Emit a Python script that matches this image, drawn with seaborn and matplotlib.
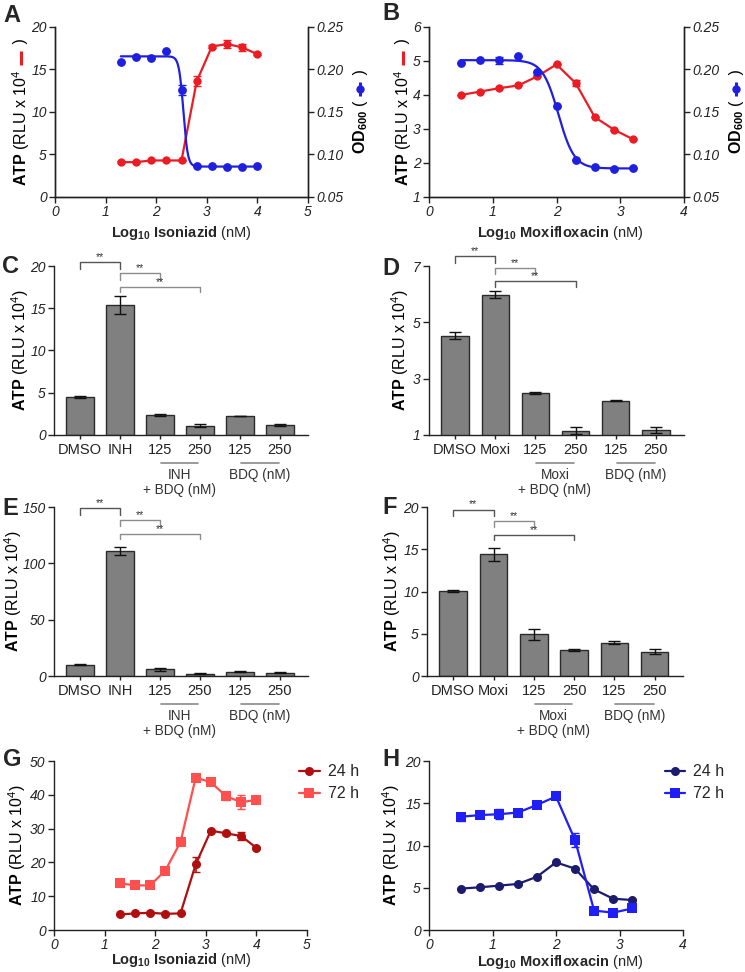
import numpy as np
import pandas as pd
import matplotlib
matplotlib.use("Agg")
import matplotlib.pyplot as plt
from matplotlib.lines import Line2D
from matplotlib.transforms import IdentityTransform
import seaborn as sns

# ---------------- data ----------------
INH_LOG = [1.3, 1.6, 1.9, 2.2, 2.5, 2.8, 3.1, 3.4, 3.7, 4.0]
MOXI_LOG = [0.5, 0.8, 1.1, 1.4, 1.7, 2.0, 2.3, 2.6, 2.9, 3.2]

A_ATP = [4.1, 4.1, 4.3, 4.3, 4.3, 13.6, 17.7, 18.0, 17.6, 16.8]
A_ATP_ERR = [0.1, 0.1, 0.1, 0.1, 0.1, 0.6, 0.2, 0.5, 0.4, 0.15]
A_OD = [0.209, 0.215, 0.214, 0.222, 0.176, 0.086, 0.086, 0.0855, 0.085, 0.086]
A_OD_ERR = [0, 0, 0, 0, 0.006, 0, 0, 0, 0, 0]
A_FIT = dict(top=0.2155, bottom=0.0858, logec50=2.537, hill=10.0)

B_ATP = [4.0, 4.1, 4.2, 4.28, 4.55, 4.9, 4.35, 3.35, 2.98, 2.7]
B_ATP_ERR = [0, 0, 0, 0, 0, 0, 0.1, 0, 0, 0]
B_OD = [0.208, 0.211, 0.211, 0.216, 0.197, 0.157, 0.093, 0.085, 0.083, 0.084]
B_OD_ERR = [0, 0, 0.004, 0, 0, 0, 0, 0, 0, 0]
B_FIT = dict(top=0.211, bottom=0.0836, logec50=2.03, hill=3.5)

BAR_KEYS = ["DMSO", "DRUG", "COMBO 125", "COMBO 250", "BDQ 125", "BDQ 250"]
INH_TICKS = ["DMSO", "INH", "125", "250", "125", "250"]
MOXI_TICKS = ["DMSO", "Moxi", "125", "250", "125", "250"]

C_VALS = [4.5, 15.4, 2.35, 1.1, 2.25, 1.2]
C_ERR = [0.15, 1.1, 0.12, 0.15, 0.05, 0.08]
D_VALS = [4.52, 5.98, 2.5, 1.15, 2.22, 1.18]
D_ERR = [0.12, 0.12, 0.03, 0.12, 0.03, 0.1]
E_VALS = [10.2, 111.0, 5.9, 2.1, 3.8, 3.1]
E_ERR = [0.3, 3.8, 1.5, 0.3, 0.5, 0.5]
F_VALS = [10.08, 14.4, 4.96, 3.07, 3.94, 2.87]
F_ERR = [0.1, 0.75, 0.65, 0.15, 0.2, 0.3]

G_24 = [4.6, 4.9, 5.1, 4.8, 4.9, 19.4, 29.4, 28.6, 27.8, 24.3]
G_24_ERR = [0.2, 0.2, 0.2, 0.2, 0.2, 2.2, 0.3, 0.4, 1.2, 0.3]
G_72 = [13.8, 13.2, 13.2, 17.6, 26.0, 45.1, 43.7, 39.6, 37.8, 38.5]
G_72_ERR = [0.3, 0.3, 0.3, 0.5, 0.5, 0.4, 0.5, 1.0, 2.0, 0.5]
H_24 = [4.9, 5.05, 5.25, 5.45, 6.3, 8.0, 7.26, 4.8, 3.7, 3.55]
H_24_ERR = [0.1, 0.1, 0.1, 0.1, 0.1, 0.1, 0.1, 0.1, 0.1, 0.1]
H_72 = [13.4, 13.6, 13.7, 13.9, 14.8, 15.8, 10.65, 2.3, 2.05, 2.55]
H_72_ERR = [0.5, 0.2, 0.6, 0.3, 0.2, 0.3, 0.8, 0.2, 0.1, 0.3]

# ---------------- style ----------------
sns.set_style("ticks")
plt.rcParams["font.family"] = ["Liberation Sans", "DejaVu Sans"]
plt.rcParams["mathtext.fontset"] = "custom"
plt.rcParams["mathtext.rm"] = "Liberation Sans"
plt.rcParams["mathtext.bf"] = "Liberation Sans:bold"
plt.rcParams["mathtext.it"] = "Liberation Sans:italic"
plt.rcParams["axes.linewidth"] = 1.0
plt.rcParams["axes.edgecolor"] = "#222222"

W, H = 745, 972
fig = plt.figure(figsize=(W / 100, H / 100), dpi=100)
PX = IdentityTransform()

RED, BLUE = "#EC1C24", "#1F1FE0"
BAR_GRAY, EDGE = "#808080", "#2b2b2b"
ATP_LABEL = r"$\mathbf{ATP}$ (RLU x 10$^4$)"


def rect(l, t, r, b):
    return [l / W, 1 - b / H, (r - l) / W, (b - t) / H]


def hill(x, p):
    x = np.asarray(x)
    return p["bottom"] + (p["top"] - p["bottom"]) / (1 + 10 ** ((x - p["logec50"]) * p["hill"]))


def style_ticks(ax, italic=True, size=10):
    ax.tick_params(direction="out", length=4, width=1, labelsize=size, pad=2, colors="#222222")
    if italic:
        for t in ax.get_xticklabels() + ax.get_yticklabels():
            t.set_fontstyle("italic")


def vlabel(x, ytop, parts, size=11):
    """rotated label built from pieces, centred at (x, ytop) in image px"""
    r = fig.canvas.get_renderer()
    items, total = [], 0
    for kind, val, col in parts:
        if kind == "text":
            t = fig.text(x, 0, val, transform=PX, rotation=90, rotation_mode="anchor",
                         ha="left", va="center", fontsize=size, color=col)
            h = t.get_window_extent(r).height
        else:
            t, h = None, 20
        items.append((kind, val, col, t, h))
        total += h
    y = (H - ytop) - total / 2
    for kind, val, col, t, h in items:
        if kind == "text":
            t.set_position((x, y))
        else:
            fig.add_artist(Line2D([x, x], [y + 3, y + h - 3], transform=PX, color=col, lw=2.2,
                                  solid_capstyle="butt"))
            if val:
                fig.add_artist(Line2D([x], [y + h / 2], transform=PX, color=col, marker="o",
                                      ms=6, mew=0))
        y += h


def xlabel(x, ybase, drug):
    fig.text(x, H - ybase, r"$\mathbf{Log_{10}\ %s}$ (nM)" % drug, transform=PX,
             ha="center", va="baseline", fontsize=10.5)


def letter(x, ybase, s):
    fig.text(x, H - ybase, s, transform=PX, fontsize=17, fontweight="bold", va="baseline")


def dose_panel(r, xs, atp, atp_err, od, od_err, fit, xlim, xticks, ylim, yticks):
    ax = fig.add_axes(r)
    ax2 = ax.twinx()
    sns.lineplot(x=xs, y=atp, color=RED, marker="o", ms=6, mew=0, lw=1.6, ax=ax)
    ax.errorbar(xs, atp, yerr=atp_err, fmt="none", ecolor=RED, elinewidth=1.2, capsize=3)
    xf = np.linspace(xs[0], xs[-1], 400)
    sns.lineplot(x=xf, y=hill(xf, fit), color=BLUE, lw=1.6, ax=ax2)
    sns.scatterplot(x=xs, y=od, color=BLUE, s=40, linewidth=0, ax=ax2, zorder=3)
    ax2.errorbar(xs, od, yerr=od_err, fmt="none", ecolor=BLUE, elinewidth=1.2, capsize=3)
    ax.set_xlim(*xlim)
    ax.set_xticks(xticks)
    ax.set_ylim(*ylim)
    ax.set_yticks(yticks)
    ax2.set_ylim(0.05, 0.25)
    ax2.set_yticks([0.05, 0.10, 0.15, 0.20, 0.25])
    ax2.set_yticklabels(["0.05", "0.10", "0.15", "0.20", "0.25"])
    for a in (ax, ax2):
        a.spines["top"].set_visible(False)
        a.set_xlabel("")
        a.set_ylabel("")
    style_ticks(ax)
    style_ticks(ax2)
    return ax


def bar_panel(r, vals, errs, ticks, ylim, yticks, brackets, drug):
    ax = fig.add_axes(r)
    df = pd.DataFrame({"cond": BAR_KEYS, "atp": vals})
    sns.barplot(data=df, x="cond", y="atp", order=BAR_KEYS, color=BAR_GRAY, edgecolor=EDGE,
                linewidth=1.0, width=0.68, saturation=1, errorbar=None, ax=ax)
    ax.errorbar(np.arange(len(vals)), vals, yerr=errs, fmt="none", ecolor="#111111",
                elinewidth=1, capsize=4, capthick=1)
    ax.set_xlim(-0.65, 5.7)
    ax.set_ylim(*ylim)
    ax.set_yticks(yticks)
    ax.set_xticks(range(6))
    ax.set_xticklabels(ticks)
    ax.set_xlabel("")
    ax.set_ylabel("")
    sns.despine(ax=ax)
    style_ticks(ax)
    for t in ax.get_xticklabels():
        t.set_fontstyle("normal")
        t.set_fontsize(10.5)
    ax.tick_params(axis="x", length=3, pad=3)
    for x0, x1, top, drop, col in brackets:
        ax.plot([x0, x0, x1, x1], [drop, top, top, drop], color=col, lw=1, clip_on=False)
        ax.text((x0 + x1) / 2, top, "**", ha="center", va="bottom", fontsize=7.5,
                color="#333333", clip_on=False)
    tr = ax.get_xaxis_transform()
    for x0, x1, txt in [(2.02, 2.95, "%s\n+ BDQ (nM)" % drug), (4.02, 4.97, "BDQ (nM)")]:
        ax.plot([x0, x1], [-0.166, -0.166], transform=tr, color="#8a8a8a", lw=1.2, clip_on=False)
        ax.text((x0 + x1) / 2, -0.195, txt, transform=tr, ha="center", va="top", fontsize=9.8,
                color="#333333", linespacing=1.05)
    return ax


def time_panel(r, xs, s24, e24, s72, e72, c24, c72, xlim, xticks, ylim, yticks, leg_x):
    ax = fig.add_axes(r)
    for ys, es, col, mk, lab in [(s24, e24, c24, "o", "24 h"), (s72, e72, c72, "s", "72 h")]:
        sns.lineplot(x=xs, y=ys, color=col, marker=mk, ms=6.5, mew=0, lw=1.6, label=lab, ax=ax)
        ax.errorbar(xs, ys, yerr=es, fmt="none", ecolor=col, elinewidth=1.2, capsize=3)
    ax.set_xlim(*xlim)
    ax.set_xticks(xticks)
    ax.set_ylim(*ylim)
    ax.set_yticks(yticks)
    ax.set_xlabel("")
    ax.set_ylabel("")
    sns.despine(ax=ax)
    style_ticks(ax)
    ax.legend(loc="upper left", bbox_to_anchor=(leg_x, 1.0), frameon=False, fontsize=11.5,
              handlelength=1.3, handletextpad=0.5, labelspacing=0.45, borderaxespad=0,
              borderpad=0.2)
    return ax


# ---------------- A / B ----------------
dose_panel(rect(55, 27, 308, 197), INH_LOG, A_ATP, A_ATP_ERR, A_OD, A_OD_ERR, A_FIT,
           (0, 5), range(6), (0, 20), [0, 5, 10, 15, 20])
dose_panel(rect(429, 27, 684, 197), MOXI_LOG, B_ATP, B_ATP_ERR, B_OD, B_OD_ERR, B_FIT,
           (0, 4), range(5), (1, 6), [1, 2, 3, 4, 5, 6])

for x_left, x_right in [(21, 360), (403, 736)]:
    vlabel(x_left, 112, [("text", r"$\mathbf{ATP}$ (RLU x 10$^4$ ", "black"),
                         ("line", False, RED), ("text", " )", "black")], size=11.5)
    vlabel(x_right, 112, [("text", r"$\mathbf{OD_{600}}$ ( ", "black"),
                          ("line", True, BLUE), ("text", " )", "black")], size=11.5)
xlabel(181, 237, "Isoniazid")
xlabel(560, 237, "Moxifloxacin")

# ---------------- C / D / E / F ----------------
DARK, LIGHT = "#555555", "#8c8c8c"
bar_panel(rect(54, 266, 308, 435), C_VALS, C_ERR, INH_TICKS, (0, 20), [0, 5, 10, 15, 20],
          [(0, 1, 20.5, 19.7, DARK), (1, 2, 19.2, 18.4, LIGHT), (1, 3, 17.55, 16.9, LIGHT)], "INH")
bar_panel(rect(429, 266, 684, 435), D_VALS, D_ERR, MOXI_TICKS, (1, 7), [1, 3, 5, 7],
          [(0, 1, 7.35, 7.12, DARK), (1, 2, 6.93, 6.73, LIGHT), (1, 3, 6.46, 6.26, DARK)], "Moxi")
bar_panel(rect(54, 507, 308, 676), E_VALS, E_ERR, INH_TICKS, (0, 150), [0, 50, 100, 150],
          [(0, 1, 148.8, 142.9, DARK), (1, 2, 138.4, 133.3, LIGHT), (1, 3, 125.9, 121.4, LIGHT)], "INH")
bar_panel(rect(427, 507, 683, 676), F_VALS, F_ERR, MOXI_TICKS, (0, 20), [0, 5, 10, 15, 20],
          [(0, 1, 19.7, 18.9, DARK), (1, 2, 18.35, 17.6, LIGHT), (1, 3, 16.65, 16.06, DARK)], "Moxi")

for x, yc in [(20, 350), (400, 350), (13, 591), (392, 591)]:
    vlabel(x, yc, [("text", ATP_LABEL, "black")], size=11.5)

# ---------------- G / H ----------------
time_panel(rect(54, 761, 307, 930), INH_LOG, G_24, G_24_ERR, G_72, G_72_ERR, "#B00F0F", "#FF4F4F",
           (0, 5), range(6), (0, 50), [0, 10, 20, 30, 40, 50], 0.955)
time_panel(rect(429, 761, 683, 930), MOXI_LOG, H_24, H_24_ERR, H_72, H_72_ERR, "#1C1C6E", "#1E1EF5",
           (0, 4), range(5), (0, 20), [0, 5, 10, 15, 20], 0.915)
for x in (17, 391):
    vlabel(x, 845, [("text", ATP_LABEL, "black")], size=11.5)
xlabel(181, 964, "Isoniazid")
xlabel(560, 966, "Moxifloxacin")

for x, y, s in [(3, 22, "A"), (382, 20, "B"), (2, 273, "C"), (382, 275, "D"),
                (2, 515, "E"), (382, 514, "F"), (3, 766, "G"), (382, 766, "H")]:
    letter(x, y, s)

fig.savefig("out.png", dpi=100, facecolor="white")
